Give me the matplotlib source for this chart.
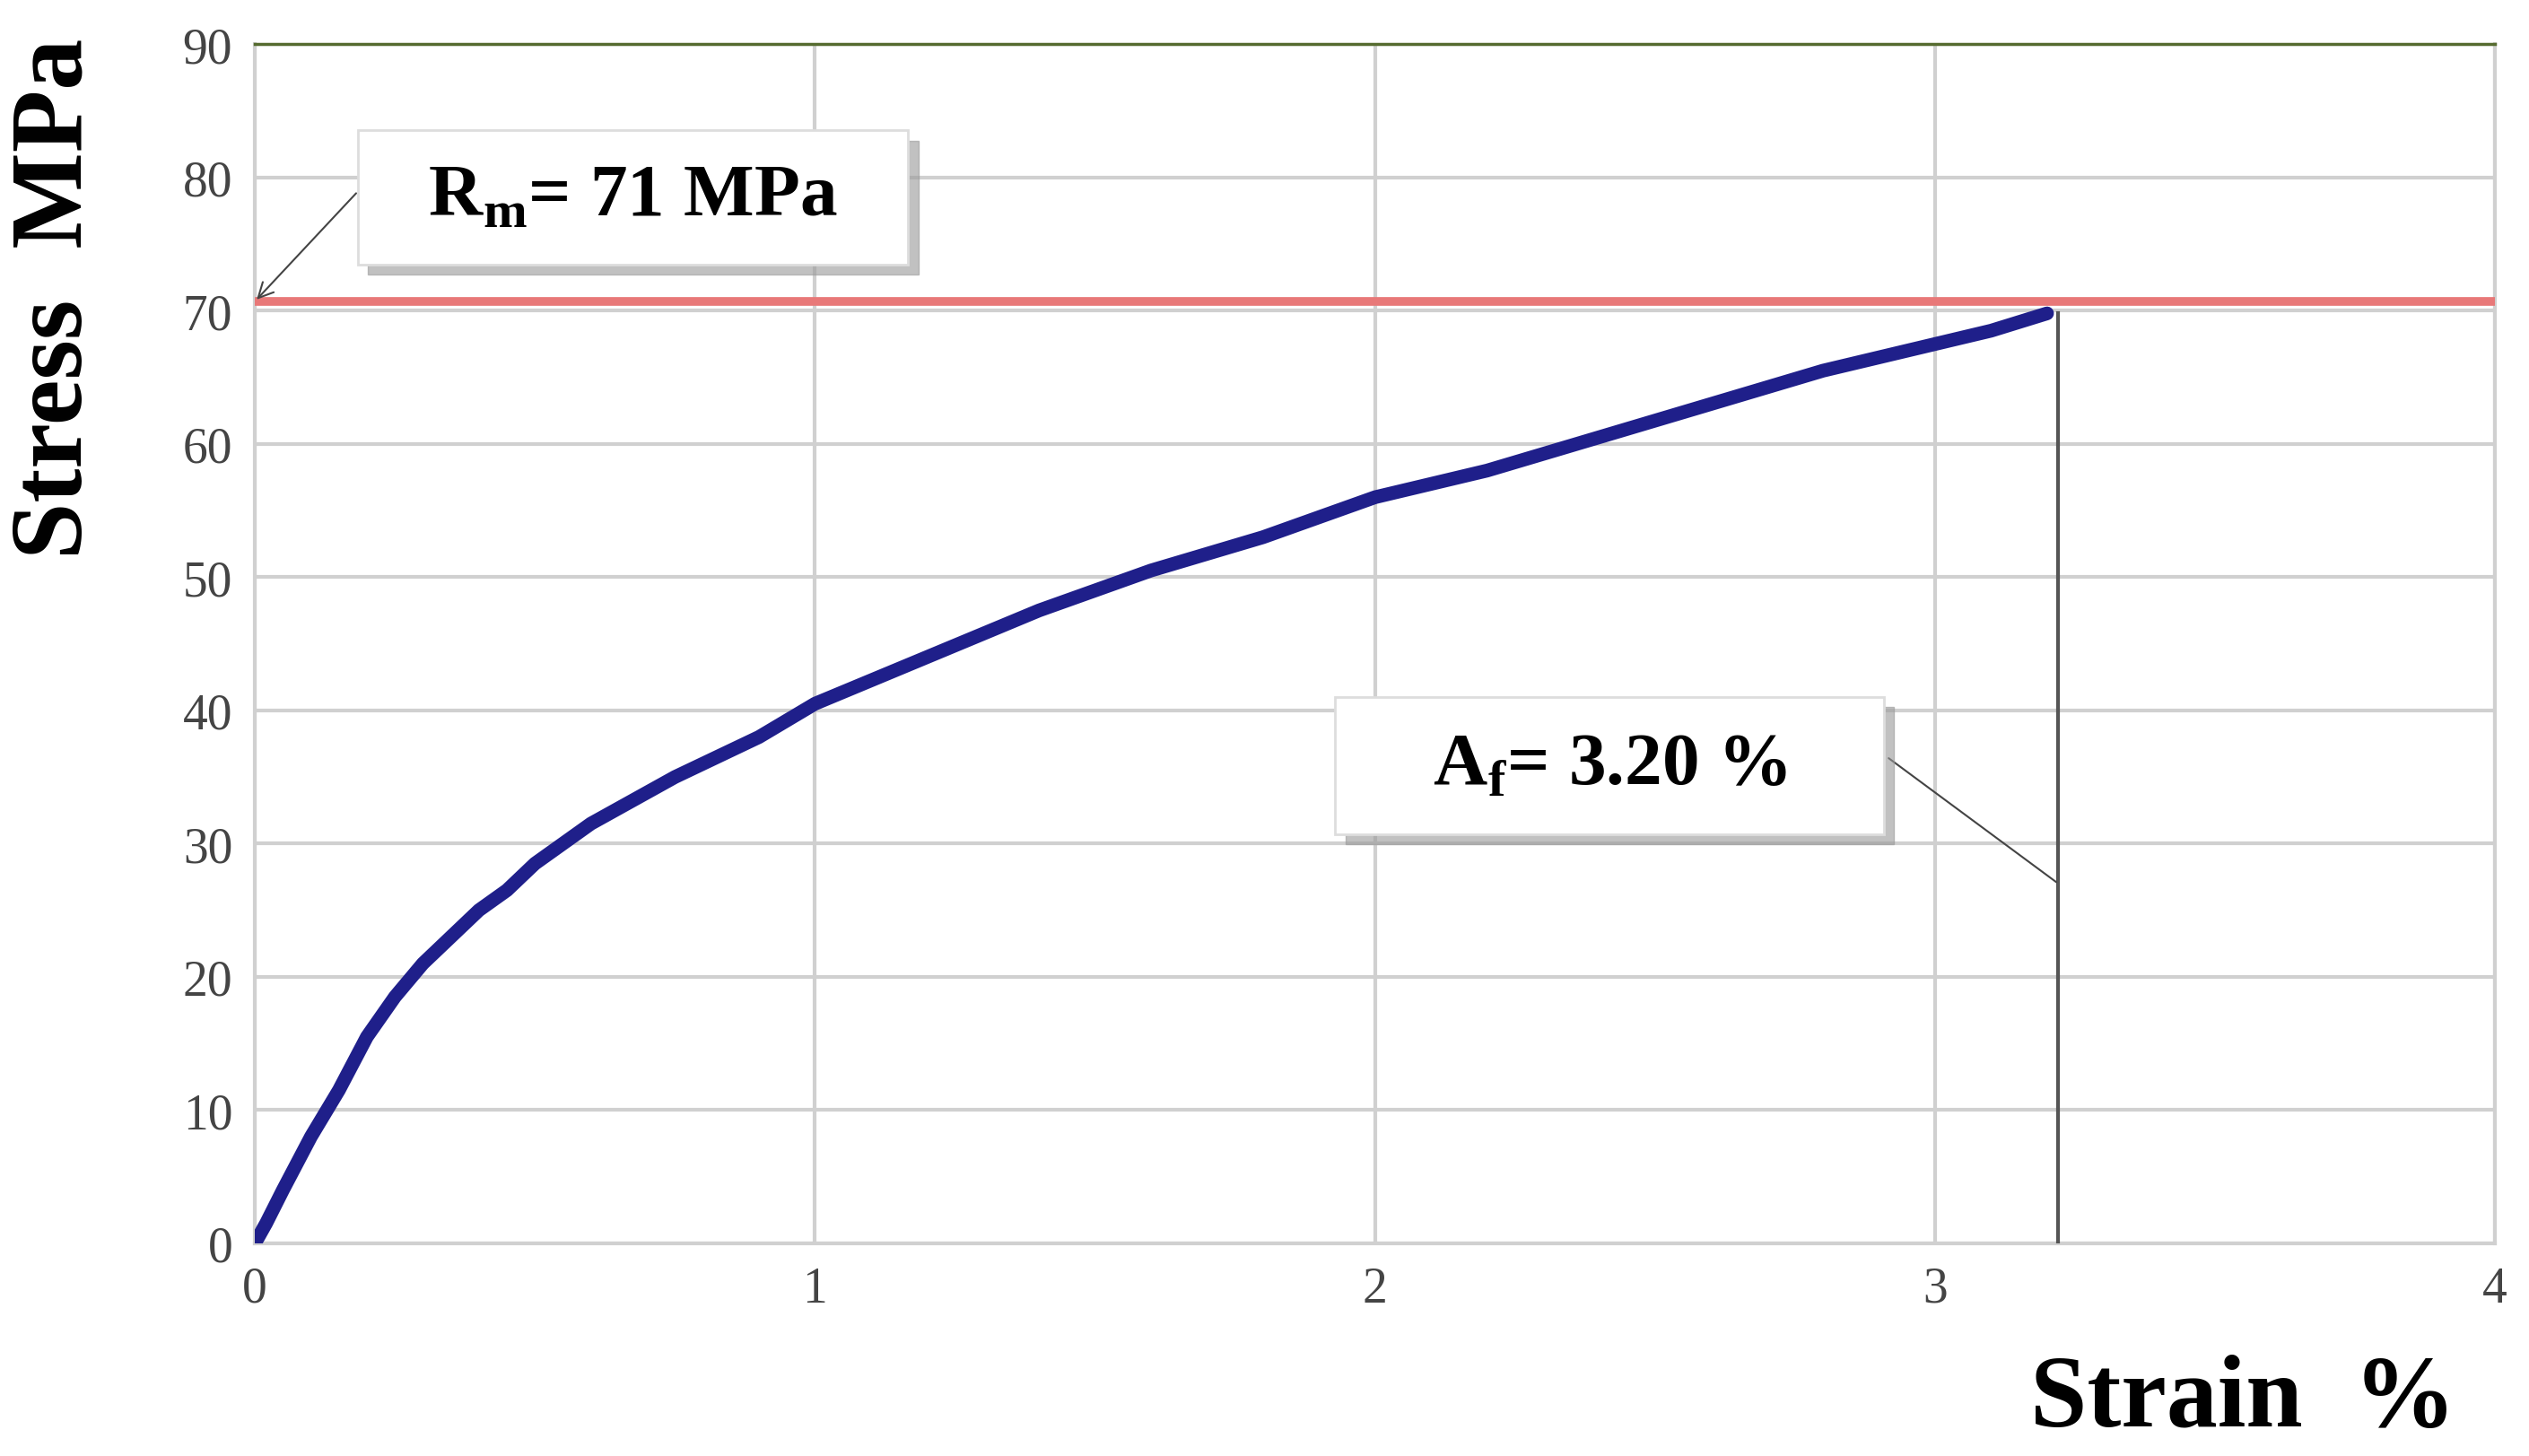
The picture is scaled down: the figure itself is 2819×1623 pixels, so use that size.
import matplotlib
matplotlib.use("Agg")
import matplotlib.pyplot as plt
from matplotlib.patches import Rectangle

strain = [0, 0.02, 0.05, 0.1, 0.15, 0.2, 0.25, 0.3, 0.4, 0.45, 0.5, 0.6, 0.75, 0.9, 1.0, 1.2, 1.4, 1.6, 1.8, 2.0, 2.2, 2.4, 2.6, 2.8, 3.0, 3.1, 3.2]
stress = [0, 1.5, 4, 8, 11.5, 15.5, 18.5, 21, 25, 26.5, 28.5, 31.5, 35, 38, 40.5, 44, 47.5, 50.5, 53, 56, 58, 60.5, 63, 65.5, 67.5, 68.5, 69.8]
rm = 71
af = 3.22
xticks = [0, 1, 2, 3, 4]
yticks = [0, 10, 20, 30, 40, 50, 60, 70, 80, 90]

plt.rcParams['font.family'] = ['Liberation Serif', 'DejaVu Serif']
fig = plt.figure(figsize=(28.19, 16.24), dpi=100)
ax = fig.add_axes([0.1008, 0.146, 0.8858, 0.823])
ax.set_xlim(0, 4)
ax.set_ylim(0, 90)
ax.set_xticks(xticks)
ax.set_yticks(yticks)
ax.grid(True, color='#d0d0d0', lw=3)
for s in ['right', 'bottom', 'left']:
    ax.spines[s].set_color('#d0d0d0'); ax.spines[s].set_linewidth(3)
ax.spines['top'].set_color('#556b2f'); ax.spines['top'].set_linewidth(2.5)
ax.tick_params(length=0, labelsize=40, colors='#444444', pad=18)

ax.axhline(70.7, color='#e87878', lw=7, zorder=3)
ax.plot([af, af], [0, 69.8], color='#555555', lw=3, zorder=3)
ax.plot(strain, stress, color='#1f1f8a', lw=11, zorder=4, solid_capstyle='round')

fig.text(0.022, 0.795, 'Stress  MPa', rotation=90, fontsize=82, fontweight='bold', ha='center', va='center')
fig.text(0.887, 0.038, 'Strain  %', fontsize=82, fontweight='bold', ha='center', va='center')

def box(x0, y0, w, h, txt, sub, rest):
    fig.patches.append(Rectangle((x0 + 0.004, y0 - 0.007), w, h, transform=fig.transFigure, color='#999999', alpha=0.6, zorder=1))
    fig.patches.append(Rectangle((x0, y0), w, h, transform=fig.transFigure, facecolor='white', edgecolor='#dddddd', lw=2, zorder=2))
    fig.text(x0 + w / 2, y0 + h / 2, r'%s$_{\mathregular{%s}}$%s' % (txt, sub, rest), fontsize=60, fontweight='bold', ha='center', va='center', zorder=3)

box(0.1416, 0.818, 0.2175, 0.092, 'R', 'm', '= 71 MPa')
box(0.528, 0.427, 0.217, 0.094, 'A', 'f', '= 3.20 %')

ax.annotate('', xy=(0.0, 70.7), xytext=(0.1415, 0.868), textcoords='figure fraction',
            arrowprops=dict(arrowstyle='->,head_length=1.2,head_width=0.6', color='#444444', lw=1.5), zorder=5)
ax.annotate('', xy=(af, 27), xytext=(0.746, 0.48), textcoords='figure fraction',
            arrowprops=dict(arrowstyle='-', color='#444444', lw=1.5), zorder=5)

fig.savefig('out.png', dpi=100, facecolor='white')
